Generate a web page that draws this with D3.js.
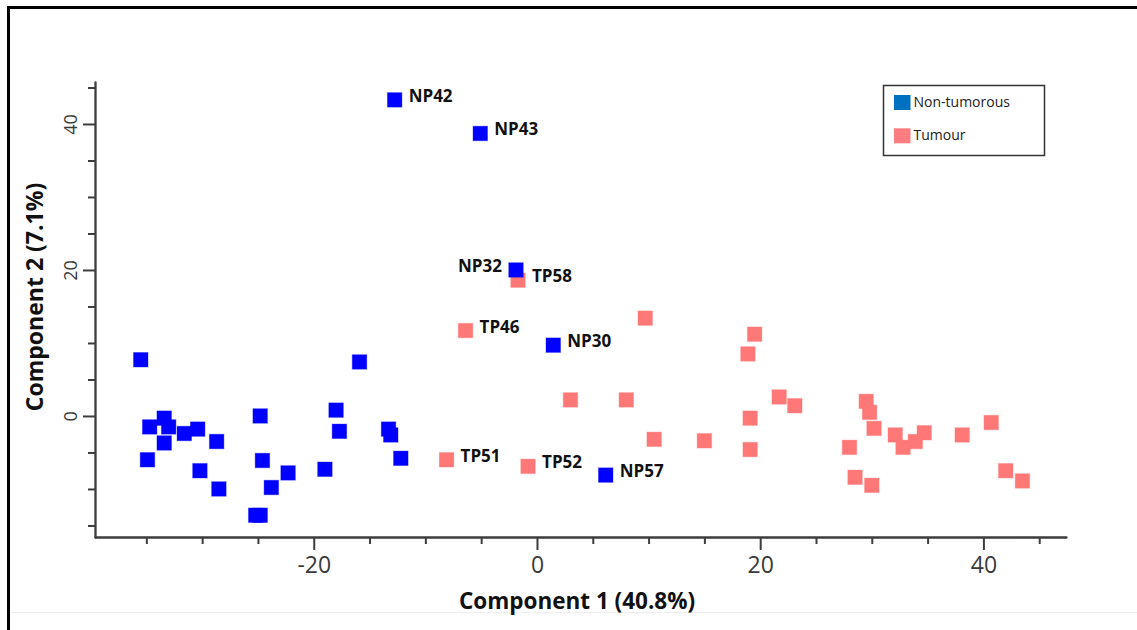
<!DOCTYPE html>
<html>
<head>
<meta charset="utf-8">
<script src="https://cdn.jsdelivr.net/npm/d3@7"></script>
<style>
  html, body { margin: 0; padding: 0; background: #fff; }
  svg { display: block; font-family: "Open Sans", "DejaVu Sans", sans-serif; }
</style>
</head>
<body>
<svg id="chart" width="1137" height="630"></svg>
<script>
// PCA scores: Component 1 (x) vs Component 2 (y)
const nonTumourX = [-35.5, -15.9, -34.7, -33.4, -33.0, -31.6, -30.4, -33.4, -28.7, -34.9, -30.2, -28.5,
                    -24.8, -24.6, -22.3, -23.8, -25.2, -24.8, -18.0, -17.7, -19.0, -13.3, -13.1, -12.2,
                    -12.75, -5.08, -1.88, 1.46, 6.16];
const nonTumourY = [7.7, 7.4, -1.5, -0.3, -1.5, -2.4, -1.8, -3.7, -3.5, -6.0, -7.5, -10.0,
                    0.0, -6.1, -7.8, -9.8, -13.6, -13.6, 0.8, -2.1, -7.3, -1.8, -2.6, -5.8,
                    43.3, 38.7, 20.0, 9.7, -8.1];
const nonTumourNames = ["", "", "", "", "", "", "", "", "", "", "", "",
                        "", "", "", "", "", "", "", "", "", "", "", "",
                        "NP42", "NP43", "NP32", "NP30", "NP57"];

const tumourX = [-1.7, -6.4, -8.1, -0.8, 9.7, 3.0, 8.0, 10.5, 15.0, 19.5, 18.9, 21.7, 23.1, 19.1, 19.1,
                 29.5, 29.8, 30.2, 32.1, 32.8, 33.9, 34.7, 28.0, 28.5, 30.0, 38.1, 40.7, 42.0, 43.5];
const tumourY = [18.6, 11.7, -6.0, -6.9, 13.4, 2.2, 2.2, -3.2, -3.4, 11.2, 8.5, 2.6, 1.4, -0.3, -4.6,
                 2.0, 0.5, -1.7, -2.6, -4.3, -3.5, -2.3, -4.3, -8.4, -9.5, -2.6, -0.9, -7.5, -8.9];
const tumourNames = ["TP58", "TP46", "TP51", "TP52", "", "", "", "", "", "", "", "", "", "", "",
                     "", "", "", "", "", "", "", "", "", "", "", "", "", ""];

// labels placed on the left of their marker
const leftLabels = ["NP32"];

const xTicks = d3.range(-35, 46, 5);
const xLabelled = [-20, 0, 20, 40];
const yTicks = d3.range(-15, 46, 5);
const yLabelled = [0, 20, 40];

const legendItems = ["Non-tumorous", "Tumour"];
const legendColors = ["#0070C0", "#FF7C80"];
const pointColors = { nonTumour: "#0000FF", tumour: "#FF7878" };

const svg = d3.select("#chart");

// outer frame
svg.append("rect").attr("width", 1137).attr("height", 630).attr("fill", "#fff");
svg.append("line").attr("x1", 10).attr("x2", 1137).attr("y1", 612.5).attr("y2", 612.5)
   .attr("stroke", "#eeeeee").attr("stroke-width", 1);
svg.append("path").attr("d", "M8.5,630V7.5H1137")
   .attr("fill", "none").attr("stroke", "#000").attr("stroke-width", 3);

const x = d3.scaleLinear().domain([-39.6, 47.4]).range([95, 1066]);
const y = d3.scaleLinear().domain([-16.58, 45.75]).range([537, 82]);

const axisColor = "#3d3d3d";
const tickTextColor = "#3a3a3a";

// x axis
const gx = svg.append("g").attr("transform", `translate(0,${y.range()[0]})`)
  .call(d3.axisBottom(x).tickValues(xTicks).tickSizeOuter(0)
        .tickFormat(d => xLabelled.includes(d) ? String(d) : ""));
gx.select(".domain").attr("stroke", axisColor).attr("stroke-width", 2.3).attr("stroke-linecap", "round");
gx.selectAll(".tick line").attr("stroke", axisColor).attr("stroke-width", 2)
  .attr("y2", d => xLabelled.includes(d) ? 13 : 7);
gx.selectAll(".tick text").attr("fill", tickTextColor).attr("font-size", 23)
  .attr("font-family", "'Open Sans', sans-serif").attr("y", 28).attr("dy", "0.36em");

// y axis
const gy = svg.append("g").attr("transform", `translate(${x.range()[0]},0)`)
  .call(d3.axisLeft(y).tickValues(yTicks).tickSizeOuter(0)
        .tickFormat(d => yLabelled.includes(d) ? String(d) : ""));
gy.select(".domain").attr("stroke", axisColor).attr("stroke-width", 2.3).attr("stroke-linecap", "round");
gy.selectAll(".tick line").attr("stroke", axisColor).attr("stroke-width", 2)
  .attr("x2", d => yLabelled.includes(d) ? -12 : -7);
gy.selectAll(".tick text").attr("fill", tickTextColor).attr("font-size", 18)
  .attr("font-family", "'Open Sans', sans-serif")
  .attr("x", null).attr("dy", "0.36em").attr("text-anchor", "middle")
  .attr("transform", "translate(-24,0) rotate(-90)");

// axis titles
svg.append("text").attr("x", 577).attr("y", 609).attr("text-anchor", "middle")
  .attr("font-size", 22.5).attr("font-weight", "bold").attr("fill", "#111")
  .text("Component 1 (40.8%)");
svg.append("text").attr("transform", "translate(43,297) rotate(-90)").attr("text-anchor", "middle")
  .attr("font-size", 23).attr("font-weight", "bold").attr("fill", "#111")
  .text("Component 2 (7.1%)");

// points
const side = 14.5;
function drawGroup(xs, ys, names, color) {
  const data = xs.map((v, i) => ({ x: v, y: ys[i], name: names[i] }));
  svg.append("g").selectAll("rect").data(data).join("rect")
    .attr("x", d => x(d.x) - side / 2).attr("y", d => y(d.y) - side / 2)
    .attr("width", side).attr("height", side)
    .attr("fill", color).attr("stroke", color).attr("stroke-opacity", 0.35).attr("stroke-width", 1);
  return data;
}
const tumourData = drawGroup(tumourX, tumourY, tumourNames, pointColors.tumour);
const nonTumourData = drawGroup(nonTumourX, nonTumourY, nonTumourNames, pointColors.nonTumour);

// sample labels
const labelled = tumourData.concat(nonTumourData).filter(d => d.name);
svg.append("g").selectAll("text").data(labelled).join("text")
  .attr("x", d => leftLabels.includes(d.name) ? x(d.x) - 14 : x(d.x) + 14)
  .attr("y", d => y(d.y) + 2)
  .attr("text-anchor", d => leftLabels.includes(d.name) ? "end" : "start")
  .attr("font-size", 17).attr("font-weight", "bold").attr("fill", "#111")
  .text(d => d.name);

// legend
const lg = svg.append("g");
lg.append("rect").attr("x", 883.5).attr("y", 85.5).attr("width", 161).attr("height", 70)
  .attr("fill", "#fff").attr("stroke", "#333").attr("stroke-width", 1.5);
legendItems.forEach((name, i) => {
  lg.append("rect").attr("x", 894).attr("y", 95 + i * 33.3).attr("width", 16.5).attr("height", 15)
    .attr("fill", legendColors[i]);
  lg.append("text").attr("x", 913.5).attr("y", 106.7 + i * 33.3)
    .attr("font-size", 14).attr("fill", "#222").text(name);
});
</script>
</body>
</html>
